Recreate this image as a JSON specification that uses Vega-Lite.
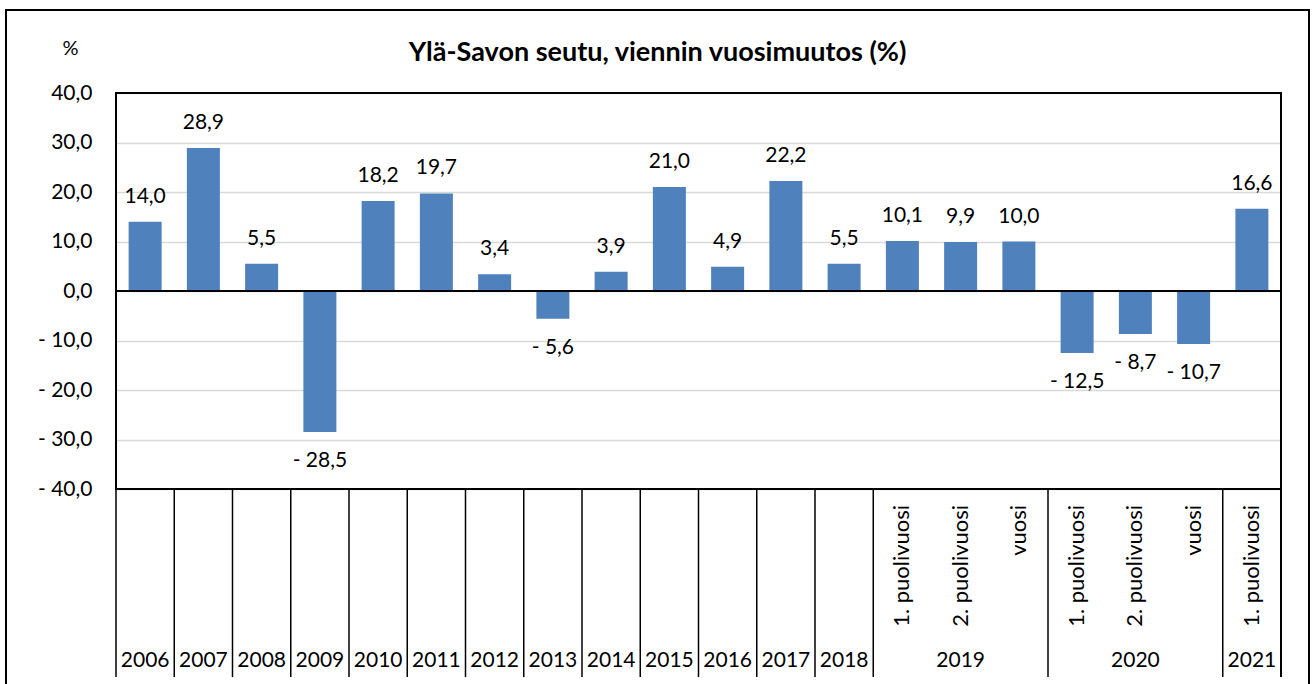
{
  "$schema": "https://vega.github.io/schema/vega-lite/v6.json",
  "width": 1303,
  "height": 680,
  "autosize": {"type": "none"},
  "padding": {"left": 6, "top": 10, "right": 4, "bottom": 0},
  "background": "white",
  "title": {
    "text": "Ylä-Savon seutu, viennin vuosimuutos (%)",
    "font": "Lato",
    "fontSize": 27,
    "fontWeight": "bold",
    "color": "black",
    "anchor": "middle",
    "baseline": "alphabetic",
    "offset": -78
  },
  "config": {
    "view": {"stroke": "black", "strokeWidth": 2},
    "font": "Lato"
  },
  "datasets": {
    "main": [
      {"i": 0, "year": "2006", "sub": "", "value": 14.0},
      {"i": 1, "year": "2007", "sub": "", "value": 28.9},
      {"i": 2, "year": "2008", "sub": "", "value": 5.5},
      {"i": 3, "year": "2009", "sub": "", "value": -28.5},
      {"i": 4, "year": "2010", "sub": "", "value": 18.2},
      {"i": 5, "year": "2011", "sub": "", "value": 19.7},
      {"i": 6, "year": "2012", "sub": "", "value": 3.4},
      {"i": 7, "year": "2013", "sub": "", "value": -5.6},
      {"i": 8, "year": "2014", "sub": "", "value": 3.9},
      {"i": 9, "year": "2015", "sub": "", "value": 21.0},
      {"i": 10, "year": "2016", "sub": "", "value": 4.9},
      {"i": 11, "year": "2017", "sub": "", "value": 22.2},
      {"i": 12, "year": "2018", "sub": "", "value": 5.5},
      {"i": 13, "year": "2019", "sub": "1. puolivuosi", "value": 10.1},
      {"i": 14, "year": "2019", "sub": "2. puolivuosi", "value": 9.9},
      {"i": 15, "year": "2019", "sub": "vuosi", "value": 10.0},
      {"i": 16, "year": "2020", "sub": "1. puolivuosi", "value": -12.5},
      {"i": 17, "year": "2020", "sub": "2. puolivuosi", "value": -8.7},
      {"i": 18, "year": "2020", "sub": "vuosi", "value": -10.7},
      {"i": 19, "year": "2021", "sub": "1. puolivuosi", "value": 16.6}
    ]
  },
  "data": {"name": "main"},
  "encoding": {
    "x": {
      "field": "i",
      "type": "quantitative",
      "scale": {"domain": [-0.5, 19.5], "range": [110, 1275], "nice": false, "zero": false, "padding": 0},
      "axis": null
    }
  },
  "layer": [
    {
      "mark": {"type": "bar", "size": 33, "color": "#4F81BD"},
      "encoding": {
        "y": {
          "field": "value",
          "type": "quantitative",
          "scale": {"domain": [-40, 40], "range": [479, 83], "nice": false},
          "axis": {
            "values": [-40, -30, -20, -10, 0, 10, 20, 30, 40],
            "labelExpr": "(datum.value < 0 ? '- ' : '') + replace(format(abs(datum.value), '.1f'), '.', ',')",
            "labelFont": "Lato",
            "labelFontSize": 21,
            "labelColor": "black",
            "labelPadding": 24,
            "ticks": false,
            "domain": false,
            "grid": true,
            "gridColor": "#d9d9d9",
            "gridWidth": 1.5,
            "offset": -110,
            "title": "%",
            "titleAngle": 0,
            "titleX": -46,
            "titleY": 38,
            "titleFont": "Lato",
            "titleFontSize": 20,
            "titleFontWeight": "normal",
            "titleColor": "black",
            "titleAlign": "center",
            "titleBaseline": "middle"
          }
        }
      }
    },
    {
      "mark": {"type": "rule", "color": "black", "strokeWidth": 1.5},
      "encoding": {
        "x": {"datum": -0.5, "type": "quantitative"},
        "x2": {"datum": 19.5},
        "y": {"datum": 0, "type": "quantitative"}
      }
    },
    {
      "mark": {"type": "rect", "fill": null, "fillOpacity": 0, "stroke": "black", "strokeWidth": 1.5},
      "encoding": {
        "x": {"datum": -0.5, "type": "quantitative"},
        "x2": {"datum": 19.5},
        "y": {"datum": -40, "type": "quantitative"},
        "y2": {"datum": 40}
      }
    },
    {
      "transform": [
        {"filter": "datum.value >= 0"},
        {"calculate": "(datum.value < 0 ? '- ' : '') + replace(format(abs(datum.value), '.1f'), '.', ',')", "as": "lab"}
      ],
      "mark": {"type": "text", "font": "Lato", "fontSize": 21, "color": "black", "baseline": "middle", "dy": -25},
      "encoding": {
        "y": {"field": "value", "type": "quantitative"},
        "text": {"field": "lab"}
      }
    },
    {
      "transform": [
        {"filter": "datum.value < 0"},
        {"calculate": "(datum.value < 0 ? '- ' : '') + replace(format(abs(datum.value), '.1f'), '.', ',')", "as": "lab"}
      ],
      "mark": {"type": "text", "font": "Lato", "fontSize": 21, "color": "black", "baseline": "middle", "dy": 29},
      "encoding": {
        "y": {"field": "value", "type": "quantitative"},
        "text": {"field": "lab"}
      }
    },
    {
      "transform": [
        {"filter": "datum.sub == '' || indexof(datum.sub, '1.') == 0"},
        {"calculate": "datum.i - 0.5", "as": "edge"}
      ],
      "mark": {"type": "rule", "color": "black", "strokeWidth": 1.5},
      "encoding": {
        "x": {"field": "edge", "type": "quantitative"},
        "y": {"datum": -40, "type": "quantitative"},
        "y2": {"datum": -78}
      }
    },
    {
      "mark": {"type": "rule", "color": "black", "strokeWidth": 1.5},
      "encoding": {
        "x": {"datum": 19.5, "type": "quantitative"},
        "y": {"datum": -40, "type": "quantitative"},
        "y2": {"datum": -78}
      }
    },
    {
      "transform": [{"filter": "datum.sub != ''"}],
      "mark": {"type": "text", "font": "Lato", "fontSize": 22, "color": "black", "angle": 270, "align": "right", "baseline": "middle"},
      "encoding": {
        "y": {"datum": -43.2, "type": "quantitative"},
        "text": {"field": "sub"}
      }
    },
    {
      "transform": [{"aggregate": [{"op": "mean", "field": "i", "as": "i"}], "groupby": ["year"]}],
      "mark": {"type": "text", "font": "Lato", "fontSize": 21, "color": "black", "baseline": "middle"},
      "encoding": {
        "y": {"datum": -74.75, "type": "quantitative"},
        "text": {"field": "year"}
      }
    }
  ]
}
